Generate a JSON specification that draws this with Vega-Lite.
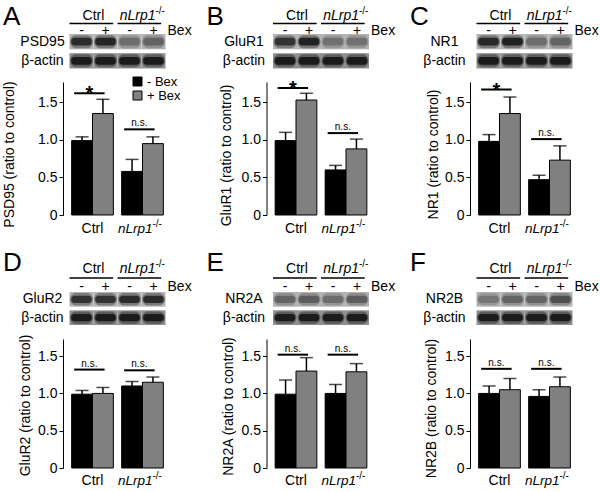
{
"$schema":"https://vega.github.io/schema/vega-lite/v6.json",
"autosize":{"type":"pad"},
"padding":{"left":1,"top":4,"right":5,"bottom":5},
"config":{"font":"Liberation Sans","view":{"stroke":null},"axis":{"grid":false,"labelColor":"black","titleColor":"black","domainColor":"black","tickColor":"black","labelFontSize":14,"titleFontSize":14,"titleFontWeight":"normal"},"text":{"color":"black"}},
"datasets":{
"bars":[
{"p":"A","group":"Ctrl","bex":"- Bex","mean":0.99,"upper":1.04},{"p":"A","group":"Ctrl","bex":"+ Bex","mean":1.35,"upper":1.54},{"p":"A","group":"nLrp1","bex":"- Bex","mean":0.58,"upper":0.74},{"p":"A","group":"nLrp1","bex":"+ Bex","mean":0.95,"upper":1.04},
{"p":"B","group":"Ctrl","bex":"- Bex","mean":0.99,"upper":1.10},{"p":"B","group":"Ctrl","bex":"+ Bex","mean":1.53,"upper":1.62},{"p":"B","group":"nLrp1","bex":"- Bex","mean":0.60,"upper":0.66},{"p":"B","group":"nLrp1","bex":"+ Bex","mean":0.88,"upper":1.01},
{"p":"C","group":"Ctrl","bex":"- Bex","mean":0.98,"upper":1.07},{"p":"C","group":"Ctrl","bex":"+ Bex","mean":1.35,"upper":1.57},{"p":"C","group":"nLrp1","bex":"- Bex","mean":0.47,"upper":0.53},{"p":"C","group":"nLrp1","bex":"+ Bex","mean":0.73,"upper":0.92},
{"p":"D","group":"Ctrl","bex":"- Bex","mean":0.99,"upper":1.04},{"p":"D","group":"Ctrl","bex":"+ Bex","mean":1.00,"upper":1.08},{"p":"D","group":"nLrp1","bex":"- Bex","mean":1.10,"upper":1.16},{"p":"D","group":"nLrp1","bex":"+ Bex","mean":1.15,"upper":1.22},
{"p":"E","group":"Ctrl","bex":"- Bex","mean":0.99,"upper":1.18},{"p":"E","group":"Ctrl","bex":"+ Bex","mean":1.30,"upper":1.48},{"p":"E","group":"nLrp1","bex":"- Bex","mean":1.00,"upper":1.12},{"p":"E","group":"nLrp1","bex":"+ Bex","mean":1.29,"upper":1.40},
{"p":"F","group":"Ctrl","bex":"- Bex","mean":1.00,"upper":1.10},{"p":"F","group":"Ctrl","bex":"+ Bex","mean":1.05,"upper":1.20},{"p":"F","group":"nLrp1","bex":"- Bex","mean":0.96,"upper":1.05},{"p":"F","group":"nLrp1","bex":"+ Bex","mean":1.09,"upper":1.22}
],
"sig":[
{"p":"A","group":"Ctrl","y":1.62,"label":"*"},{"p":"A","group":"nLrp1","y":1.14,"label":"n.s."},
{"p":"B","group":"Ctrl","y":1.69,"label":"*"},{"p":"B","group":"nLrp1","y":1.09,"label":"n.s."},
{"p":"C","group":"Ctrl","y":1.67,"label":"*"},{"p":"C","group":"nLrp1","y":1.01,"label":"n.s."},
{"p":"D","group":"Ctrl","y":1.32,"label":"n.s."},{"p":"D","group":"nLrp1","y":1.31,"label":"n.s."},
{"p":"E","group":"Ctrl","y":1.52,"label":"n.s."},{"p":"E","group":"nLrp1","y":1.52,"label":"n.s."},
{"p":"F","group":"Ctrl","y":1.33,"label":"n.s."},{"p":"F","group":"nLrp1","y":1.33,"label":"n.s."}
],
"blots":[
{"p":"A","row":"PSD95","lane":"Ctrl|-","v":0.85},{"p":"A","row":"PSD95","lane":"Ctrl|+","v":0.9},{"p":"A","row":"PSD95","lane":"nLrp1|-","v":0.45},{"p":"A","row":"PSD95","lane":"nLrp1|+","v":0.5},
{"p":"A","row":"β-actin","lane":"Ctrl|-","v":0.95},{"p":"A","row":"β-actin","lane":"Ctrl|+","v":0.95},{"p":"A","row":"β-actin","lane":"nLrp1|-","v":0.95},{"p":"A","row":"β-actin","lane":"nLrp1|+","v":0.95},
{"p":"B","row":"GluR1","lane":"Ctrl|-","v":0.8},{"p":"B","row":"GluR1","lane":"Ctrl|+","v":0.92},{"p":"B","row":"GluR1","lane":"nLrp1|-","v":0.42},{"p":"B","row":"GluR1","lane":"nLrp1|+","v":0.42},
{"p":"B","row":"β-actin","lane":"Ctrl|-","v":0.95},{"p":"B","row":"β-actin","lane":"Ctrl|+","v":0.95},{"p":"B","row":"β-actin","lane":"nLrp1|-","v":0.95},{"p":"B","row":"β-actin","lane":"nLrp1|+","v":0.95},
{"p":"C","row":"NR1","lane":"Ctrl|-","v":0.88},{"p":"C","row":"NR1","lane":"Ctrl|+","v":0.92},{"p":"C","row":"NR1","lane":"nLrp1|-","v":0.45},{"p":"C","row":"NR1","lane":"nLrp1|+","v":0.5},
{"p":"C","row":"β-actin","lane":"Ctrl|-","v":0.95},{"p":"C","row":"β-actin","lane":"Ctrl|+","v":0.95},{"p":"C","row":"β-actin","lane":"nLrp1|-","v":0.95},{"p":"C","row":"β-actin","lane":"nLrp1|+","v":0.95},
{"p":"D","row":"GluR2","lane":"Ctrl|-","v":0.8},{"p":"D","row":"GluR2","lane":"Ctrl|+","v":0.8},{"p":"D","row":"GluR2","lane":"nLrp1|-","v":0.85},{"p":"D","row":"GluR2","lane":"nLrp1|+","v":0.85},
{"p":"D","row":"β-actin","lane":"Ctrl|-","v":0.95},{"p":"D","row":"β-actin","lane":"Ctrl|+","v":0.95},{"p":"D","row":"β-actin","lane":"nLrp1|-","v":0.95},{"p":"D","row":"β-actin","lane":"nLrp1|+","v":0.95},
{"p":"E","row":"NR2A","lane":"Ctrl|-","v":0.5},{"p":"E","row":"NR2A","lane":"Ctrl|+","v":0.55},{"p":"E","row":"NR2A","lane":"nLrp1|-","v":0.45},{"p":"E","row":"NR2A","lane":"nLrp1|+","v":0.55},
{"p":"E","row":"β-actin","lane":"Ctrl|-","v":0.95},{"p":"E","row":"β-actin","lane":"Ctrl|+","v":0.95},{"p":"E","row":"β-actin","lane":"nLrp1|-","v":0.95},{"p":"E","row":"β-actin","lane":"nLrp1|+","v":0.95},
{"p":"F","row":"NR2B","lane":"Ctrl|-","v":0.4},{"p":"F","row":"NR2B","lane":"Ctrl|+","v":0.5},{"p":"F","row":"NR2B","lane":"nLrp1|-","v":0.5},{"p":"F","row":"NR2B","lane":"nLrp1|+","v":0.62},
{"p":"F","row":"β-actin","lane":"Ctrl|-","v":0.95},{"p":"F","row":"β-actin","lane":"Ctrl|+","v":0.95},{"p":"F","row":"β-actin","lane":"nLrp1|-","v":0.95},{"p":"F","row":"β-actin","lane":"nLrp1|+","v":0.95}
],
"groups":[{"group":"Ctrl","first":"Ctrl|-","second":"Ctrl|+","sup":""},{"group":"nLrp1","first":"nLrp1|-","second":"nLrp1|+","sup":"-/-"}],
"lanes":[{"lane":"Ctrl|-","sign":"-"},{"lane":"Ctrl|+","sign":"+"},{"lane":"nLrp1|-","sign":"-"},{"lane":"nLrp1|+","sign":"+"}],
"bexlab":[{"lane":"nLrp1|+","text":"Bex"}]
},
"columns":3,
"bounds":"flush",
"spacing":{"row":0,"column":94.5},
"concat":[
{"width":109,"height":17.5,"title":{"text":"A","anchor":"start","frame":"group","orient":"top","offset":0,"dx":-60,"dy":45,"fontSize":26,"fontWeight":"normal","baseline":"alphabetic","color":"black"},
"layer":[
{"data":{"name":"groups"},"mark":{"type":"rule","strokeWidth":1.5,"color":"black"},"encoding":{"x":{"field":"first","type":"nominal","bandPosition":0,"scale":{"type":"band","domain":["Ctrl|-","Ctrl|+","nLrp1|-","nLrp1|+"],"paddingInner":0,"paddingOuter":0.27},"axis":null},"x2":{"field":"second","bandPosition":0.82},"y":{"datum":"line","type":"ordinal","scale":{"type":"point","domain":["group","line","sign"],"range":[0,15],"padding":0},"axis":null}}},
{"data":{"name":"groups"},"transform":[{"filter":"datum.group == 'Ctrl'"}],"mark":{"type":"text","fontSize":14,"baseline":"middle"},"encoding":{"x":{"field":"second","type":"nominal","bandPosition":0,"axis":null},"y":{"datum":"group","type":"ordinal","axis":null},"text":{"field":"group"}}},
{"data":{"name":"groups"},"transform":[{"filter":"datum.group == 'nLrp1'"}],"mark":{"type":"text","fontSize":14,"fontStyle":"italic","baseline":"middle","align":"right","dx":14},"encoding":{"x":{"field":"second","type":"nominal","bandPosition":0,"axis":null},"y":{"datum":"group","type":"ordinal","axis":null},"text":{"field":"group"}}},
{"data":{"name":"groups"},"transform":[{"filter":"datum.group == 'nLrp1'"}],"mark":{"type":"text","fontSize":10,"baseline":"middle","align":"left","dx":14,"dy":-5},"encoding":{"x":{"field":"second","type":"nominal","bandPosition":0,"axis":null},"y":{"datum":"group","type":"ordinal","axis":null},"text":{"field":"sup"}}},
{"data":{"name":"lanes"},"mark":{"type":"text","fontSize":14,"baseline":"middle"},"encoding":{"x":{"field":"lane","type":"nominal","axis":null},"y":{"datum":"sign","type":"ordinal","axis":null},"text":{"field":"sign"}}},
{"data":{"name":"bexlab"},"mark":{"type":"text","fontSize":14,"baseline":"middle","align":"left","dx":2},"encoding":{"x":{"field":"lane","type":"nominal","bandPosition":1,"axis":null},"y":{"datum":"sign","type":"ordinal","axis":null},"text":{"field":"text"}}}
]},
{"width":109,"height":17.5,"title":{"text":"B","anchor":"start","frame":"group","orient":"top","offset":0,"dx":-60,"dy":45,"fontSize":26,"fontWeight":"normal","baseline":"alphabetic","color":"black"},
"layer":[
{"data":{"name":"groups"},"mark":{"type":"rule","strokeWidth":1.5,"color":"black"},"encoding":{"x":{"field":"first","type":"nominal","bandPosition":0,"scale":{"type":"band","domain":["Ctrl|-","Ctrl|+","nLrp1|-","nLrp1|+"],"paddingInner":0,"paddingOuter":0.27},"axis":null},"x2":{"field":"second","bandPosition":0.82},"y":{"datum":"line","type":"ordinal","scale":{"type":"point","domain":["group","line","sign"],"range":[0,15],"padding":0},"axis":null}}},
{"data":{"name":"groups"},"transform":[{"filter":"datum.group == 'Ctrl'"}],"mark":{"type":"text","fontSize":14,"baseline":"middle"},"encoding":{"x":{"field":"second","type":"nominal","bandPosition":0,"axis":null},"y":{"datum":"group","type":"ordinal","axis":null},"text":{"field":"group"}}},
{"data":{"name":"groups"},"transform":[{"filter":"datum.group == 'nLrp1'"}],"mark":{"type":"text","fontSize":14,"fontStyle":"italic","baseline":"middle","align":"right","dx":14},"encoding":{"x":{"field":"second","type":"nominal","bandPosition":0,"axis":null},"y":{"datum":"group","type":"ordinal","axis":null},"text":{"field":"group"}}},
{"data":{"name":"groups"},"transform":[{"filter":"datum.group == 'nLrp1'"}],"mark":{"type":"text","fontSize":10,"baseline":"middle","align":"left","dx":14,"dy":-5},"encoding":{"x":{"field":"second","type":"nominal","bandPosition":0,"axis":null},"y":{"datum":"group","type":"ordinal","axis":null},"text":{"field":"sup"}}},
{"data":{"name":"lanes"},"mark":{"type":"text","fontSize":14,"baseline":"middle"},"encoding":{"x":{"field":"lane","type":"nominal","axis":null},"y":{"datum":"sign","type":"ordinal","axis":null},"text":{"field":"sign"}}},
{"data":{"name":"bexlab"},"mark":{"type":"text","fontSize":14,"baseline":"middle","align":"left","dx":2},"encoding":{"x":{"field":"lane","type":"nominal","bandPosition":1,"axis":null},"y":{"datum":"sign","type":"ordinal","axis":null},"text":{"field":"text"}}}
]},
{"width":109,"height":17.5,"title":{"text":"C","anchor":"start","frame":"group","orient":"top","offset":0,"dx":-60,"dy":45,"fontSize":26,"fontWeight":"normal","baseline":"alphabetic","color":"black"},
"layer":[
{"data":{"name":"groups"},"mark":{"type":"rule","strokeWidth":1.5,"color":"black"},"encoding":{"x":{"field":"first","type":"nominal","bandPosition":0,"scale":{"type":"band","domain":["Ctrl|-","Ctrl|+","nLrp1|-","nLrp1|+"],"paddingInner":0,"paddingOuter":0.27},"axis":null},"x2":{"field":"second","bandPosition":0.82},"y":{"datum":"line","type":"ordinal","scale":{"type":"point","domain":["group","line","sign"],"range":[0,15],"padding":0},"axis":null}}},
{"data":{"name":"groups"},"transform":[{"filter":"datum.group == 'Ctrl'"}],"mark":{"type":"text","fontSize":14,"baseline":"middle"},"encoding":{"x":{"field":"second","type":"nominal","bandPosition":0,"axis":null},"y":{"datum":"group","type":"ordinal","axis":null},"text":{"field":"group"}}},
{"data":{"name":"groups"},"transform":[{"filter":"datum.group == 'nLrp1'"}],"mark":{"type":"text","fontSize":14,"fontStyle":"italic","baseline":"middle","align":"right","dx":14},"encoding":{"x":{"field":"second","type":"nominal","bandPosition":0,"axis":null},"y":{"datum":"group","type":"ordinal","axis":null},"text":{"field":"group"}}},
{"data":{"name":"groups"},"transform":[{"filter":"datum.group == 'nLrp1'"}],"mark":{"type":"text","fontSize":10,"baseline":"middle","align":"left","dx":14,"dy":-5},"encoding":{"x":{"field":"second","type":"nominal","bandPosition":0,"axis":null},"y":{"datum":"group","type":"ordinal","axis":null},"text":{"field":"sup"}}},
{"data":{"name":"lanes"},"mark":{"type":"text","fontSize":14,"baseline":"middle"},"encoding":{"x":{"field":"lane","type":"nominal","axis":null},"y":{"datum":"sign","type":"ordinal","axis":null},"text":{"field":"sign"}}},
{"data":{"name":"bexlab"},"mark":{"type":"text","fontSize":14,"baseline":"middle","align":"left","dx":2},"encoding":{"x":{"field":"lane","type":"nominal","bandPosition":1,"axis":null},"y":{"datum":"sign","type":"ordinal","axis":null},"text":{"field":"text"}}}
]},
{"width":109,"height":47.5,"data":{"name":"blots"},"transform":[{"filter":"datum.p == 'A'"}],
"encoding":{"x":{"field":"lane","type":"nominal","scale":{"type":"band","domain":["Ctrl|-","Ctrl|+","nLrp1|-","nLrp1|+"],"paddingInner":0,"paddingOuter":0.27},"axis":null},"y":{"field":"row","type":"nominal","sort":null,"scale":{"type":"band","range":[0,34.5],"paddingInner":0.2,"paddingOuter":0},"axis":{"title":null,"ticks":false,"tickSize":0,"domain":false,"labelAlign":"center","labelBaseline":"middle","labelPadding":21,"labelFontSize":14}}},
"layer":[
{"mark":{"type":"rect"},"encoding":{"fill":{"condition":{"test":"datum.row == 'β-actin'","value":"#8f8f8f"},"value":"#b3b3b3"}}},
{"mark":{"type":"rect","width":{"band":0.95},"height":{"band":0.85},"cornerRadius":6,"opacity":0.4},"encoding":{"fill":{"field":"v","type":"quantitative","scale":{"domain":[0,1],"range":["#c0c0c0","#0a0a0a"]},"legend":null}}},
{"mark":{"type":"rect","width":{"band":0.85},"height":{"band":0.5},"cornerRadius":3,"opacity":0.9},"encoding":{"fill":{"field":"v","type":"quantitative","scale":{"domain":[0,1],"range":["#c0c0c0","#0a0a0a"]},"legend":null}}}
]},
{"width":109,"height":47.5,"data":{"name":"blots"},"transform":[{"filter":"datum.p == 'B'"}],
"encoding":{"x":{"field":"lane","type":"nominal","scale":{"type":"band","domain":["Ctrl|-","Ctrl|+","nLrp1|-","nLrp1|+"],"paddingInner":0,"paddingOuter":0.27},"axis":null},"y":{"field":"row","type":"nominal","sort":null,"scale":{"type":"band","range":[0,34.5],"paddingInner":0.2,"paddingOuter":0},"axis":{"title":null,"ticks":false,"tickSize":0,"domain":false,"labelAlign":"center","labelBaseline":"middle","labelPadding":23,"labelFontSize":14}}},
"layer":[
{"mark":{"type":"rect"},"encoding":{"fill":{"condition":{"test":"datum.row == 'β-actin'","value":"#8f8f8f"},"value":"#b3b3b3"}}},
{"mark":{"type":"rect","width":{"band":0.95},"height":{"band":0.85},"cornerRadius":6,"opacity":0.4},"encoding":{"fill":{"field":"v","type":"quantitative","scale":{"domain":[0,1],"range":["#c0c0c0","#0a0a0a"]},"legend":null}}},
{"mark":{"type":"rect","width":{"band":0.85},"height":{"band":0.5},"cornerRadius":3,"opacity":0.9},"encoding":{"fill":{"field":"v","type":"quantitative","scale":{"domain":[0,1],"range":["#c0c0c0","#0a0a0a"]},"legend":null}}}
]},
{"width":109,"height":47.5,"data":{"name":"blots"},"transform":[{"filter":"datum.p == 'C'"}],
"encoding":{"x":{"field":"lane","type":"nominal","scale":{"type":"band","domain":["Ctrl|-","Ctrl|+","nLrp1|-","nLrp1|+"],"paddingInner":0,"paddingOuter":0.27},"axis":null},"y":{"field":"row","type":"nominal","sort":null,"scale":{"type":"band","range":[0,34.5],"paddingInner":0.2,"paddingOuter":0},"axis":{"title":null,"ticks":false,"tickSize":0,"domain":false,"labelAlign":"center","labelBaseline":"middle","labelPadding":26,"labelFontSize":14}}},
"layer":[
{"mark":{"type":"rect"},"encoding":{"fill":{"condition":{"test":"datum.row == 'β-actin'","value":"#8f8f8f"},"value":"#b3b3b3"}}},
{"mark":{"type":"rect","width":{"band":0.95},"height":{"band":0.85},"cornerRadius":6,"opacity":0.4},"encoding":{"fill":{"field":"v","type":"quantitative","scale":{"domain":[0,1],"range":["#c0c0c0","#0a0a0a"]},"legend":null}}},
{"mark":{"type":"rect","width":{"band":0.85},"height":{"band":0.5},"cornerRadius":3,"opacity":0.9},"encoding":{"fill":{"field":"v","type":"quantitative","scale":{"domain":[0,1],"range":["#c0c0c0","#0a0a0a"]},"legend":null}}}
]},
{"width":109,"height":133,
"layer":[
{"data":{"name":"bars"},"transform":[{"filter":"datum.p == 'A'"}],"mark":{"type":"bar","stroke":"black","strokeWidth":1},
"encoding":{"x":{"field":"group","type":"nominal","scale":{"type":"band","domain":["Ctrl","nLrp1"],"paddingInner":0.166,"paddingOuter":0.173},"axis":{"title":null,"labels":false,"ticks":false,"domain":true}},
"xOffset":{"field":"bex","type":"nominal","scale":{"domain":["- Bex","+ Bex"],"paddingInner":0,"paddingOuter":0}},
"y":{"field":"mean","type":"quantitative","scale":{"domain":[0,1.77],"nice":false},"axis":{"title":"PSD95 (ratio to control)","values":[0,0.5,1,1.5],"labelExpr":"datum.value == 0 ? '0' : format(datum.value, '.1f')","tickSize":4,"labelPadding":2,"titleX":-54,"titleY":72,"titleBaseline":"middle"}},
"color":{"field":"bex","type":"nominal","scale":{"domain":["- Bex","+ Bex"],"range":["#000000","#808080"]},"legend":{"orient":"none","legendX":68,"legendY":59,"title":null,"symbolType":"square","symbolSize":81,"symbolStrokeColor":"black","symbolStrokeWidth":1,"symbolOpacity":1,"labelFontSize":13,"labelColor":"black","rowPadding":0,"labelOffset":3,"padding":0}}}},
{"data":{"name":"bars"},"transform":[{"filter":"datum.p == 'A'"}],"mark":{"type":"rule","strokeWidth":1.5,"color":"black"},"encoding":{"x":{"field":"group","type":"nominal","axis":null},"xOffset":{"field":"bex","type":"nominal"},"y":{"field":"mean","type":"quantitative"},"y2":{"field":"upper"}}},
{"data":{"name":"bars"},"transform":[{"filter":"datum.p == 'A'"}],"mark":{"type":"tick","size":13,"thickness":1.5,"color":"black"},"encoding":{"x":{"field":"group","type":"nominal","axis":null},"xOffset":{"field":"bex","type":"nominal"},"y":{"field":"upper","type":"quantitative"}}},
{"data":{"name":"sig"},"transform":[{"filter":"datum.p == 'A'"}],"mark":{"type":"rule","strokeWidth":2,"color":"black"},"encoding":{"x":{"field":"group","type":"nominal","bandPosition":0.06,"axis":null},"x2":{"field":"group","bandPosition":0.79},"y":{"field":"y","type":"quantitative"}}},
{"data":{"name":"sig"},"transform":[{"filter":"datum.p == 'A' && datum.label == '*'"}],"mark":{"type":"text","fontSize":20,"fontWeight":"bold","baseline":"alphabetic","dy":7},"encoding":{"x":{"field":"group","type":"nominal","bandPosition":0.425,"axis":null},"y":{"field":"y","type":"quantitative"},"text":{"field":"label"}}},
{"data":{"name":"sig"},"transform":[{"filter":"datum.p == 'A' && datum.label != '*'"}],"mark":{"type":"text","fontSize":10,"baseline":"alphabetic","dy":-3},"encoding":{"x":{"field":"group","type":"nominal","bandPosition":0.425,"axis":null},"y":{"field":"y","type":"quantitative"},"text":{"field":"label"}}},
{"data":{"name":"groups"},"transform":[{"filter":"datum.group == 'Ctrl'"}],"mark":{"type":"text","fontSize":14,"baseline":"middle","dy":14},"encoding":{"x":{"field":"group","type":"nominal","axis":null},"y":{"datum":0,"type":"quantitative"},"text":{"field":"group"}}},
{"data":{"name":"groups"},"transform":[{"filter":"datum.group == 'nLrp1'"}],"mark":{"type":"text","fontSize":13.5,"fontStyle":"italic","baseline":"middle","align":"right","dx":10,"dy":14},"encoding":{"x":{"field":"group","type":"nominal","axis":null},"y":{"datum":0,"type":"quantitative"},"text":{"field":"group"}}},
{"data":{"name":"groups"},"transform":[{"filter":"datum.group == 'nLrp1'"}],"mark":{"type":"text","fontSize":10,"baseline":"middle","align":"left","dx":10,"dy":9},"encoding":{"x":{"field":"group","type":"nominal","axis":null},"y":{"datum":0,"type":"quantitative"},"text":{"field":"sup"}}}
]},
{"width":109,"height":133,
"layer":[
{"data":{"name":"bars"},"transform":[{"filter":"datum.p == 'B'"}],"mark":{"type":"bar","stroke":"black","strokeWidth":1},
"encoding":{"x":{"field":"group","type":"nominal","scale":{"type":"band","domain":["Ctrl","nLrp1"],"paddingInner":0.166,"paddingOuter":0.173},"axis":{"title":null,"labels":false,"ticks":false,"domain":true}},
"xOffset":{"field":"bex","type":"nominal","scale":{"domain":["- Bex","+ Bex"],"paddingInner":0,"paddingOuter":0}},
"y":{"field":"mean","type":"quantitative","scale":{"domain":[0,1.77],"nice":false},"axis":{"title":"GluR1 (ratio to control)","values":[0,0.5,1,1.5],"labelExpr":"datum.value == 0 ? '0' : format(datum.value, '.1f')","tickSize":4,"labelPadding":2,"titleX":-40,"titleY":73,"titleBaseline":"middle"}},
"fill":{"condition":{"test":"datum.bex == '- Bex'","value":"#000000"},"value":"#808080"}}},
{"data":{"name":"bars"},"transform":[{"filter":"datum.p == 'B'"}],"mark":{"type":"rule","strokeWidth":1.5,"color":"black"},"encoding":{"x":{"field":"group","type":"nominal","axis":null},"xOffset":{"field":"bex","type":"nominal"},"y":{"field":"mean","type":"quantitative"},"y2":{"field":"upper"}}},
{"data":{"name":"bars"},"transform":[{"filter":"datum.p == 'B'"}],"mark":{"type":"tick","size":13,"thickness":1.5,"color":"black"},"encoding":{"x":{"field":"group","type":"nominal","axis":null},"xOffset":{"field":"bex","type":"nominal"},"y":{"field":"upper","type":"quantitative"}}},
{"data":{"name":"sig"},"transform":[{"filter":"datum.p == 'B'"}],"mark":{"type":"rule","strokeWidth":2,"color":"black"},"encoding":{"x":{"field":"group","type":"nominal","bandPosition":0.06,"axis":null},"x2":{"field":"group","bandPosition":0.79},"y":{"field":"y","type":"quantitative"}}},
{"data":{"name":"sig"},"transform":[{"filter":"datum.p == 'B' && datum.label == '*'"}],"mark":{"type":"text","fontSize":20,"fontWeight":"bold","baseline":"alphabetic","dy":7},"encoding":{"x":{"field":"group","type":"nominal","bandPosition":0.425,"axis":null},"y":{"field":"y","type":"quantitative"},"text":{"field":"label"}}},
{"data":{"name":"sig"},"transform":[{"filter":"datum.p == 'B' && datum.label != '*'"}],"mark":{"type":"text","fontSize":10,"baseline":"alphabetic","dy":-3},"encoding":{"x":{"field":"group","type":"nominal","bandPosition":0.425,"axis":null},"y":{"field":"y","type":"quantitative"},"text":{"field":"label"}}},
{"data":{"name":"groups"},"transform":[{"filter":"datum.group == 'Ctrl'"}],"mark":{"type":"text","fontSize":14,"baseline":"middle","dy":14},"encoding":{"x":{"field":"group","type":"nominal","axis":null},"y":{"datum":0,"type":"quantitative"},"text":{"field":"group"}}},
{"data":{"name":"groups"},"transform":[{"filter":"datum.group == 'nLrp1'"}],"mark":{"type":"text","fontSize":13.5,"fontStyle":"italic","baseline":"middle","align":"right","dx":10,"dy":14},"encoding":{"x":{"field":"group","type":"nominal","axis":null},"y":{"datum":0,"type":"quantitative"},"text":{"field":"group"}}},
{"data":{"name":"groups"},"transform":[{"filter":"datum.group == 'nLrp1'"}],"mark":{"type":"text","fontSize":10,"baseline":"middle","align":"left","dx":10,"dy":9},"encoding":{"x":{"field":"group","type":"nominal","axis":null},"y":{"datum":0,"type":"quantitative"},"text":{"field":"sup"}}}
]},
{"width":109,"height":133,
"layer":[
{"data":{"name":"bars"},"transform":[{"filter":"datum.p == 'C'"}],"mark":{"type":"bar","stroke":"black","strokeWidth":1},
"encoding":{"x":{"field":"group","type":"nominal","scale":{"type":"band","domain":["Ctrl","nLrp1"],"paddingInner":0.166,"paddingOuter":0.173},"axis":{"title":null,"labels":false,"ticks":false,"domain":true}},
"xOffset":{"field":"bex","type":"nominal","scale":{"domain":["- Bex","+ Bex"],"paddingInner":0,"paddingOuter":0}},
"y":{"field":"mean","type":"quantitative","scale":{"domain":[0,1.77],"nice":false},"axis":{"title":"NR1 (ratio to control)","values":[0,0.5,1,1.5],"labelExpr":"datum.value == 0 ? '0' : format(datum.value, '.1f')","tickSize":4,"labelPadding":2,"titleX":-37,"titleY":72,"titleBaseline":"middle"}},
"fill":{"condition":{"test":"datum.bex == '- Bex'","value":"#000000"},"value":"#808080"}}},
{"data":{"name":"bars"},"transform":[{"filter":"datum.p == 'C'"}],"mark":{"type":"rule","strokeWidth":1.5,"color":"black"},"encoding":{"x":{"field":"group","type":"nominal","axis":null},"xOffset":{"field":"bex","type":"nominal"},"y":{"field":"mean","type":"quantitative"},"y2":{"field":"upper"}}},
{"data":{"name":"bars"},"transform":[{"filter":"datum.p == 'C'"}],"mark":{"type":"tick","size":13,"thickness":1.5,"color":"black"},"encoding":{"x":{"field":"group","type":"nominal","axis":null},"xOffset":{"field":"bex","type":"nominal"},"y":{"field":"upper","type":"quantitative"}}},
{"data":{"name":"sig"},"transform":[{"filter":"datum.p == 'C'"}],"mark":{"type":"rule","strokeWidth":2,"color":"black"},"encoding":{"x":{"field":"group","type":"nominal","bandPosition":0.06,"axis":null},"x2":{"field":"group","bandPosition":0.79},"y":{"field":"y","type":"quantitative"}}},
{"data":{"name":"sig"},"transform":[{"filter":"datum.p == 'C' && datum.label == '*'"}],"mark":{"type":"text","fontSize":20,"fontWeight":"bold","baseline":"alphabetic","dy":7},"encoding":{"x":{"field":"group","type":"nominal","bandPosition":0.425,"axis":null},"y":{"field":"y","type":"quantitative"},"text":{"field":"label"}}},
{"data":{"name":"sig"},"transform":[{"filter":"datum.p == 'C' && datum.label != '*'"}],"mark":{"type":"text","fontSize":10,"baseline":"alphabetic","dy":-3},"encoding":{"x":{"field":"group","type":"nominal","bandPosition":0.425,"axis":null},"y":{"field":"y","type":"quantitative"},"text":{"field":"label"}}},
{"data":{"name":"groups"},"transform":[{"filter":"datum.group == 'Ctrl'"}],"mark":{"type":"text","fontSize":14,"baseline":"middle","dy":14},"encoding":{"x":{"field":"group","type":"nominal","axis":null},"y":{"datum":0,"type":"quantitative"},"text":{"field":"group"}}},
{"data":{"name":"groups"},"transform":[{"filter":"datum.group == 'nLrp1'"}],"mark":{"type":"text","fontSize":13.5,"fontStyle":"italic","baseline":"middle","align":"right","dx":10,"dy":14},"encoding":{"x":{"field":"group","type":"nominal","axis":null},"y":{"datum":0,"type":"quantitative"},"text":{"field":"group"}}},
{"data":{"name":"groups"},"transform":[{"filter":"datum.group == 'nLrp1'"}],"mark":{"type":"text","fontSize":10,"baseline":"middle","align":"left","dx":10,"dy":9},"encoding":{"x":{"field":"group","type":"nominal","axis":null},"y":{"datum":0,"type":"quantitative"},"text":{"field":"sup"}}}
]},
{"width":109,"height":77,"title":{"text":"D","anchor":"start","frame":"group","orient":"top","offset":0,"dx":-60,"dy":82,"fontSize":26,"fontWeight":"normal","baseline":"alphabetic","color":"black"},
"layer":[
{"data":{"name":"groups"},"mark":{"type":"rule","strokeWidth":1.5,"color":"black"},"encoding":{"x":{"field":"first","type":"nominal","bandPosition":0,"scale":{"type":"band","domain":["Ctrl|-","Ctrl|+","nLrp1|-","nLrp1|+"],"paddingInner":0,"paddingOuter":0.27},"axis":null},"x2":{"field":"second","bandPosition":0.82},"y":{"datum":"line","type":"ordinal","scale":{"type":"point","domain":["group","line","sign"],"range":[54,72],"padding":0},"axis":null}}},
{"data":{"name":"groups"},"transform":[{"filter":"datum.group == 'Ctrl'"}],"mark":{"type":"text","fontSize":14,"baseline":"middle"},"encoding":{"x":{"field":"second","type":"nominal","bandPosition":0,"axis":null},"y":{"datum":"group","type":"ordinal","axis":null},"text":{"field":"group"}}},
{"data":{"name":"groups"},"transform":[{"filter":"datum.group == 'nLrp1'"}],"mark":{"type":"text","fontSize":14,"fontStyle":"italic","baseline":"middle","align":"right","dx":14},"encoding":{"x":{"field":"second","type":"nominal","bandPosition":0,"axis":null},"y":{"datum":"group","type":"ordinal","axis":null},"text":{"field":"group"}}},
{"data":{"name":"groups"},"transform":[{"filter":"datum.group == 'nLrp1'"}],"mark":{"type":"text","fontSize":10,"baseline":"middle","align":"left","dx":14,"dy":-5},"encoding":{"x":{"field":"second","type":"nominal","bandPosition":0,"axis":null},"y":{"datum":"group","type":"ordinal","axis":null},"text":{"field":"sup"}}},
{"data":{"name":"lanes"},"mark":{"type":"text","fontSize":14,"baseline":"middle"},"encoding":{"x":{"field":"lane","type":"nominal","axis":null},"y":{"datum":"sign","type":"ordinal","axis":null},"text":{"field":"sign"}}},
{"data":{"name":"bexlab"},"mark":{"type":"text","fontSize":14,"baseline":"middle","align":"left","dx":2},"encoding":{"x":{"field":"lane","type":"nominal","bandPosition":1,"axis":null},"y":{"datum":"sign","type":"ordinal","axis":null},"text":{"field":"text"}}}
]},
{"width":109,"height":77,"title":{"text":"E","anchor":"start","frame":"group","orient":"top","offset":0,"dx":-60,"dy":82,"fontSize":26,"fontWeight":"normal","baseline":"alphabetic","color":"black"},
"layer":[
{"data":{"name":"groups"},"mark":{"type":"rule","strokeWidth":1.5,"color":"black"},"encoding":{"x":{"field":"first","type":"nominal","bandPosition":0,"scale":{"type":"band","domain":["Ctrl|-","Ctrl|+","nLrp1|-","nLrp1|+"],"paddingInner":0,"paddingOuter":0.27},"axis":null},"x2":{"field":"second","bandPosition":0.82},"y":{"datum":"line","type":"ordinal","scale":{"type":"point","domain":["group","line","sign"],"range":[54,72],"padding":0},"axis":null}}},
{"data":{"name":"groups"},"transform":[{"filter":"datum.group == 'Ctrl'"}],"mark":{"type":"text","fontSize":14,"baseline":"middle"},"encoding":{"x":{"field":"second","type":"nominal","bandPosition":0,"axis":null},"y":{"datum":"group","type":"ordinal","axis":null},"text":{"field":"group"}}},
{"data":{"name":"groups"},"transform":[{"filter":"datum.group == 'nLrp1'"}],"mark":{"type":"text","fontSize":14,"fontStyle":"italic","baseline":"middle","align":"right","dx":14},"encoding":{"x":{"field":"second","type":"nominal","bandPosition":0,"axis":null},"y":{"datum":"group","type":"ordinal","axis":null},"text":{"field":"group"}}},
{"data":{"name":"groups"},"transform":[{"filter":"datum.group == 'nLrp1'"}],"mark":{"type":"text","fontSize":10,"baseline":"middle","align":"left","dx":14,"dy":-5},"encoding":{"x":{"field":"second","type":"nominal","bandPosition":0,"axis":null},"y":{"datum":"group","type":"ordinal","axis":null},"text":{"field":"sup"}}},
{"data":{"name":"lanes"},"mark":{"type":"text","fontSize":14,"baseline":"middle"},"encoding":{"x":{"field":"lane","type":"nominal","axis":null},"y":{"datum":"sign","type":"ordinal","axis":null},"text":{"field":"sign"}}},
{"data":{"name":"bexlab"},"mark":{"type":"text","fontSize":14,"baseline":"middle","align":"left","dx":2},"encoding":{"x":{"field":"lane","type":"nominal","bandPosition":1,"axis":null},"y":{"datum":"sign","type":"ordinal","axis":null},"text":{"field":"text"}}}
]},
{"width":109,"height":77,"title":{"text":"F","anchor":"start","frame":"group","orient":"top","offset":0,"dx":-60,"dy":82,"fontSize":26,"fontWeight":"normal","baseline":"alphabetic","color":"black"},
"layer":[
{"data":{"name":"groups"},"mark":{"type":"rule","strokeWidth":1.5,"color":"black"},"encoding":{"x":{"field":"first","type":"nominal","bandPosition":0,"scale":{"type":"band","domain":["Ctrl|-","Ctrl|+","nLrp1|-","nLrp1|+"],"paddingInner":0,"paddingOuter":0.27},"axis":null},"x2":{"field":"second","bandPosition":0.82},"y":{"datum":"line","type":"ordinal","scale":{"type":"point","domain":["group","line","sign"],"range":[54,72],"padding":0},"axis":null}}},
{"data":{"name":"groups"},"transform":[{"filter":"datum.group == 'Ctrl'"}],"mark":{"type":"text","fontSize":14,"baseline":"middle"},"encoding":{"x":{"field":"second","type":"nominal","bandPosition":0,"axis":null},"y":{"datum":"group","type":"ordinal","axis":null},"text":{"field":"group"}}},
{"data":{"name":"groups"},"transform":[{"filter":"datum.group == 'nLrp1'"}],"mark":{"type":"text","fontSize":14,"fontStyle":"italic","baseline":"middle","align":"right","dx":14},"encoding":{"x":{"field":"second","type":"nominal","bandPosition":0,"axis":null},"y":{"datum":"group","type":"ordinal","axis":null},"text":{"field":"group"}}},
{"data":{"name":"groups"},"transform":[{"filter":"datum.group == 'nLrp1'"}],"mark":{"type":"text","fontSize":10,"baseline":"middle","align":"left","dx":14,"dy":-5},"encoding":{"x":{"field":"second","type":"nominal","bandPosition":0,"axis":null},"y":{"datum":"group","type":"ordinal","axis":null},"text":{"field":"sup"}}},
{"data":{"name":"lanes"},"mark":{"type":"text","fontSize":14,"baseline":"middle"},"encoding":{"x":{"field":"lane","type":"nominal","axis":null},"y":{"datum":"sign","type":"ordinal","axis":null},"text":{"field":"sign"}}},
{"data":{"name":"bexlab"},"mark":{"type":"text","fontSize":14,"baseline":"middle","align":"left","dx":2},"encoding":{"x":{"field":"lane","type":"nominal","bandPosition":1,"axis":null},"y":{"datum":"sign","type":"ordinal","axis":null},"text":{"field":"text"}}}
]},
{"width":109,"height":47,"data":{"name":"blots"},"transform":[{"filter":"datum.p == 'D'"}],
"encoding":{"x":{"field":"lane","type":"nominal","scale":{"type":"band","domain":["Ctrl|-","Ctrl|+","nLrp1|-","nLrp1|+"],"paddingInner":0,"paddingOuter":0.27},"axis":null},"y":{"field":"row","type":"nominal","sort":null,"scale":{"type":"band","range":[0,33],"paddingInner":0.2,"paddingOuter":0},"axis":{"title":null,"ticks":false,"tickSize":0,"domain":false,"labelAlign":"center","labelBaseline":"middle","labelPadding":21,"labelFontSize":14}}},
"layer":[
{"mark":{"type":"rect"},"encoding":{"fill":{"condition":{"test":"datum.row == 'β-actin'","value":"#8f8f8f"},"value":"#b3b3b3"}}},
{"mark":{"type":"rect","width":{"band":0.95},"height":{"band":0.85},"cornerRadius":6,"opacity":0.4},"encoding":{"fill":{"field":"v","type":"quantitative","scale":{"domain":[0,1],"range":["#c0c0c0","#0a0a0a"]},"legend":null}}},
{"mark":{"type":"rect","width":{"band":0.85},"height":{"band":0.5},"cornerRadius":3,"opacity":0.9},"encoding":{"fill":{"field":"v","type":"quantitative","scale":{"domain":[0,1],"range":["#c0c0c0","#0a0a0a"]},"legend":null}}}
]},
{"width":109,"height":47,"data":{"name":"blots"},"transform":[{"filter":"datum.p == 'E'"}],
"encoding":{"x":{"field":"lane","type":"nominal","scale":{"type":"band","domain":["Ctrl|-","Ctrl|+","nLrp1|-","nLrp1|+"],"paddingInner":0,"paddingOuter":0.27},"axis":null},"y":{"field":"row","type":"nominal","sort":null,"scale":{"type":"band","range":[0,33],"paddingInner":0.2,"paddingOuter":0},"axis":{"title":null,"ticks":false,"tickSize":0,"domain":false,"labelAlign":"center","labelBaseline":"middle","labelPadding":23,"labelFontSize":14}}},
"layer":[
{"mark":{"type":"rect"},"encoding":{"fill":{"condition":{"test":"datum.row == 'β-actin'","value":"#8f8f8f"},"value":"#b3b3b3"}}},
{"mark":{"type":"rect","width":{"band":0.95},"height":{"band":0.85},"cornerRadius":6,"opacity":0.4},"encoding":{"fill":{"field":"v","type":"quantitative","scale":{"domain":[0,1],"range":["#c0c0c0","#0a0a0a"]},"legend":null}}},
{"mark":{"type":"rect","width":{"band":0.85},"height":{"band":0.5},"cornerRadius":3,"opacity":0.9},"encoding":{"fill":{"field":"v","type":"quantitative","scale":{"domain":[0,1],"range":["#c0c0c0","#0a0a0a"]},"legend":null}}}
]},
{"width":109,"height":47,"data":{"name":"blots"},"transform":[{"filter":"datum.p == 'F'"}],
"encoding":{"x":{"field":"lane","type":"nominal","scale":{"type":"band","domain":["Ctrl|-","Ctrl|+","nLrp1|-","nLrp1|+"],"paddingInner":0,"paddingOuter":0.27},"axis":null},"y":{"field":"row","type":"nominal","sort":null,"scale":{"type":"band","range":[0,33],"paddingInner":0.2,"paddingOuter":0},"axis":{"title":null,"ticks":false,"tickSize":0,"domain":false,"labelAlign":"center","labelBaseline":"middle","labelPadding":26,"labelFontSize":14}}},
"layer":[
{"mark":{"type":"rect"},"encoding":{"fill":{"condition":{"test":"datum.row == 'β-actin'","value":"#8f8f8f"},"value":"#b3b3b3"}}},
{"mark":{"type":"rect","width":{"band":0.95},"height":{"band":0.85},"cornerRadius":6,"opacity":0.4},"encoding":{"fill":{"field":"v","type":"quantitative","scale":{"domain":[0,1],"range":["#c0c0c0","#0a0a0a"]},"legend":null}}},
{"mark":{"type":"rect","width":{"band":0.85},"height":{"band":0.5},"cornerRadius":3,"opacity":0.9},"encoding":{"fill":{"field":"v","type":"quantitative","scale":{"domain":[0,1],"range":["#c0c0c0","#0a0a0a"]},"legend":null}}}
]},
{"width":109,"height":129,
"layer":[
{"data":{"name":"bars"},"transform":[{"filter":"datum.p == 'D'"}],"mark":{"type":"bar","stroke":"black","strokeWidth":1},
"encoding":{"x":{"field":"group","type":"nominal","scale":{"type":"band","domain":["Ctrl","nLrp1"],"paddingInner":0.166,"paddingOuter":0.173},"axis":{"title":null,"labels":false,"ticks":false,"domain":true}},
"xOffset":{"field":"bex","type":"nominal","scale":{"domain":["- Bex","+ Bex"],"paddingInner":0,"paddingOuter":0}},
"y":{"field":"mean","type":"quantitative","scale":{"domain":[0,1.73],"nice":false},"axis":{"title":"GluR2 (ratio to control)","values":[0,0.5,1,1.5],"labelExpr":"datum.value == 0 ? '0' : format(datum.value, '.1f')","tickSize":4,"labelPadding":2,"titleX":-38,"titleY":66,"titleBaseline":"middle"}},
"fill":{"condition":{"test":"datum.bex == '- Bex'","value":"#000000"},"value":"#808080"}}},
{"data":{"name":"bars"},"transform":[{"filter":"datum.p == 'D'"}],"mark":{"type":"rule","strokeWidth":1.5,"color":"black"},"encoding":{"x":{"field":"group","type":"nominal","axis":null},"xOffset":{"field":"bex","type":"nominal"},"y":{"field":"mean","type":"quantitative"},"y2":{"field":"upper"}}},
{"data":{"name":"bars"},"transform":[{"filter":"datum.p == 'D'"}],"mark":{"type":"tick","size":13,"thickness":1.5,"color":"black"},"encoding":{"x":{"field":"group","type":"nominal","axis":null},"xOffset":{"field":"bex","type":"nominal"},"y":{"field":"upper","type":"quantitative"}}},
{"data":{"name":"sig"},"transform":[{"filter":"datum.p == 'D'"}],"mark":{"type":"rule","strokeWidth":2,"color":"black"},"encoding":{"x":{"field":"group","type":"nominal","bandPosition":0.06,"axis":null},"x2":{"field":"group","bandPosition":0.79},"y":{"field":"y","type":"quantitative"}}},
{"data":{"name":"sig"},"transform":[{"filter":"datum.p == 'D'"}],"mark":{"type":"text","fontSize":10,"baseline":"alphabetic","dy":-3},"encoding":{"x":{"field":"group","type":"nominal","bandPosition":0.425,"axis":null},"y":{"field":"y","type":"quantitative"},"text":{"field":"label"}}},
{"data":{"name":"groups"},"transform":[{"filter":"datum.group == 'Ctrl'"}],"mark":{"type":"text","fontSize":14,"baseline":"middle","dy":13},"encoding":{"x":{"field":"group","type":"nominal","axis":null},"y":{"datum":0,"type":"quantitative"},"text":{"field":"group"}}},
{"data":{"name":"groups"},"transform":[{"filter":"datum.group == 'nLrp1'"}],"mark":{"type":"text","fontSize":13.5,"fontStyle":"italic","baseline":"middle","align":"right","dx":10,"dy":13},"encoding":{"x":{"field":"group","type":"nominal","axis":null},"y":{"datum":0,"type":"quantitative"},"text":{"field":"group"}}},
{"data":{"name":"groups"},"transform":[{"filter":"datum.group == 'nLrp1'"}],"mark":{"type":"text","fontSize":10,"baseline":"middle","align":"left","dx":10,"dy":8},"encoding":{"x":{"field":"group","type":"nominal","axis":null},"y":{"datum":0,"type":"quantitative"},"text":{"field":"sup"}}}
]},
{"width":109,"height":129,
"layer":[
{"data":{"name":"bars"},"transform":[{"filter":"datum.p == 'E'"}],"mark":{"type":"bar","stroke":"black","strokeWidth":1},
"encoding":{"x":{"field":"group","type":"nominal","scale":{"type":"band","domain":["Ctrl","nLrp1"],"paddingInner":0.166,"paddingOuter":0.173},"axis":{"title":null,"labels":false,"ticks":false,"domain":true}},
"xOffset":{"field":"bex","type":"nominal","scale":{"domain":["- Bex","+ Bex"],"paddingInner":0,"paddingOuter":0}},
"y":{"field":"mean","type":"quantitative","scale":{"domain":[0,1.73],"nice":false},"axis":{"title":"NR2A (ratio to control)","values":[0,0.5,1,1.5],"labelExpr":"datum.value == 0 ? '0' : format(datum.value, '.1f')","tickSize":4,"labelPadding":2,"titleX":-38,"titleY":67,"titleBaseline":"middle"}},
"fill":{"condition":{"test":"datum.bex == '- Bex'","value":"#000000"},"value":"#808080"}}},
{"data":{"name":"bars"},"transform":[{"filter":"datum.p == 'E'"}],"mark":{"type":"rule","strokeWidth":1.5,"color":"black"},"encoding":{"x":{"field":"group","type":"nominal","axis":null},"xOffset":{"field":"bex","type":"nominal"},"y":{"field":"mean","type":"quantitative"},"y2":{"field":"upper"}}},
{"data":{"name":"bars"},"transform":[{"filter":"datum.p == 'E'"}],"mark":{"type":"tick","size":13,"thickness":1.5,"color":"black"},"encoding":{"x":{"field":"group","type":"nominal","axis":null},"xOffset":{"field":"bex","type":"nominal"},"y":{"field":"upper","type":"quantitative"}}},
{"data":{"name":"sig"},"transform":[{"filter":"datum.p == 'E'"}],"mark":{"type":"rule","strokeWidth":2,"color":"black"},"encoding":{"x":{"field":"group","type":"nominal","bandPosition":0.06,"axis":null},"x2":{"field":"group","bandPosition":0.79},"y":{"field":"y","type":"quantitative"}}},
{"data":{"name":"sig"},"transform":[{"filter":"datum.p == 'E'"}],"mark":{"type":"text","fontSize":10,"baseline":"alphabetic","dy":-3},"encoding":{"x":{"field":"group","type":"nominal","bandPosition":0.425,"axis":null},"y":{"field":"y","type":"quantitative"},"text":{"field":"label"}}},
{"data":{"name":"groups"},"transform":[{"filter":"datum.group == 'Ctrl'"}],"mark":{"type":"text","fontSize":14,"baseline":"middle","dy":13},"encoding":{"x":{"field":"group","type":"nominal","axis":null},"y":{"datum":0,"type":"quantitative"},"text":{"field":"group"}}},
{"data":{"name":"groups"},"transform":[{"filter":"datum.group == 'nLrp1'"}],"mark":{"type":"text","fontSize":13.5,"fontStyle":"italic","baseline":"middle","align":"right","dx":10,"dy":13},"encoding":{"x":{"field":"group","type":"nominal","axis":null},"y":{"datum":0,"type":"quantitative"},"text":{"field":"group"}}},
{"data":{"name":"groups"},"transform":[{"filter":"datum.group == 'nLrp1'"}],"mark":{"type":"text","fontSize":10,"baseline":"middle","align":"left","dx":10,"dy":8},"encoding":{"x":{"field":"group","type":"nominal","axis":null},"y":{"datum":0,"type":"quantitative"},"text":{"field":"sup"}}}
]},
{"width":109,"height":129,
"layer":[
{"data":{"name":"bars"},"transform":[{"filter":"datum.p == 'F'"}],"mark":{"type":"bar","stroke":"black","strokeWidth":1},
"encoding":{"x":{"field":"group","type":"nominal","scale":{"type":"band","domain":["Ctrl","nLrp1"],"paddingInner":0.166,"paddingOuter":0.173},"axis":{"title":null,"labels":false,"ticks":false,"domain":true}},
"xOffset":{"field":"bex","type":"nominal","scale":{"domain":["- Bex","+ Bex"],"paddingInner":0,"paddingOuter":0}},
"y":{"field":"mean","type":"quantitative","scale":{"domain":[0,1.73],"nice":false},"axis":{"title":"NR2B (ratio to control)","values":[0,0.5,1,1.5],"labelExpr":"datum.value == 0 ? '0' : format(datum.value, '.1f')","tickSize":4,"labelPadding":2,"titleX":-39,"titleY":69,"titleBaseline":"middle"}},
"fill":{"condition":{"test":"datum.bex == '- Bex'","value":"#000000"},"value":"#808080"}}},
{"data":{"name":"bars"},"transform":[{"filter":"datum.p == 'F'"}],"mark":{"type":"rule","strokeWidth":1.5,"color":"black"},"encoding":{"x":{"field":"group","type":"nominal","axis":null},"xOffset":{"field":"bex","type":"nominal"},"y":{"field":"mean","type":"quantitative"},"y2":{"field":"upper"}}},
{"data":{"name":"bars"},"transform":[{"filter":"datum.p == 'F'"}],"mark":{"type":"tick","size":13,"thickness":1.5,"color":"black"},"encoding":{"x":{"field":"group","type":"nominal","axis":null},"xOffset":{"field":"bex","type":"nominal"},"y":{"field":"upper","type":"quantitative"}}},
{"data":{"name":"sig"},"transform":[{"filter":"datum.p == 'F'"}],"mark":{"type":"rule","strokeWidth":2,"color":"black"},"encoding":{"x":{"field":"group","type":"nominal","bandPosition":0.06,"axis":null},"x2":{"field":"group","bandPosition":0.79},"y":{"field":"y","type":"quantitative"}}},
{"data":{"name":"sig"},"transform":[{"filter":"datum.p == 'F'"}],"mark":{"type":"text","fontSize":10,"baseline":"alphabetic","dy":-3},"encoding":{"x":{"field":"group","type":"nominal","bandPosition":0.425,"axis":null},"y":{"field":"y","type":"quantitative"},"text":{"field":"label"}}},
{"data":{"name":"groups"},"transform":[{"filter":"datum.group == 'Ctrl'"}],"mark":{"type":"text","fontSize":14,"baseline":"middle","dy":13},"encoding":{"x":{"field":"group","type":"nominal","axis":null},"y":{"datum":0,"type":"quantitative"},"text":{"field":"group"}}},
{"data":{"name":"groups"},"transform":[{"filter":"datum.group == 'nLrp1'"}],"mark":{"type":"text","fontSize":13.5,"fontStyle":"italic","baseline":"middle","align":"right","dx":10,"dy":13},"encoding":{"x":{"field":"group","type":"nominal","axis":null},"y":{"datum":0,"type":"quantitative"},"text":{"field":"group"}}},
{"data":{"name":"groups"},"transform":[{"filter":"datum.group == 'nLrp1'"}],"mark":{"type":"text","fontSize":10,"baseline":"middle","align":"left","dx":10,"dy":8},"encoding":{"x":{"field":"group","type":"nominal","axis":null},"y":{"datum":0,"type":"quantitative"},"text":{"field":"sup"}}}
]}
]
}
